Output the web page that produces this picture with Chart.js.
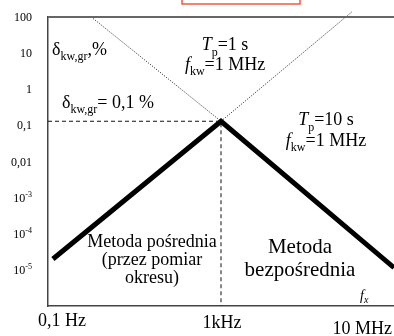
<!DOCTYPE html>
<html><head><meta charset="utf-8">
<script src="https://cdn.jsdelivr.net/npm/chart.js@4"></script>
<style>html,body{margin:0;padding:0;background:#fff;overflow:hidden}#wrap{width:394px;height:336px;position:relative}</style>
</head><body><div id="wrap"><canvas id="c" width="394" height="336"></canvas></div>
<script>
// ---- data (frequency in Hz, error in %) ----
const thickFreq = [0.13, 1000, 1e7];
const thickErr = [2.0e-5, 0.13, 1.15e-5];
const tp1Freq = [1, 1000];
const tp1Err = [100, 0.13];
const fkwFreq = [1000, 1.05e6];
const fkwErr = [0.13, 137];
const limitFreq = [0.1, 1000, 1000];
const limitErr = [0.13, 0.13, 1e-6];
const yTickValues = [100, 10, 1, 0.1, 0.01, 1e-3, 1e-4, 1e-5];
const yTickBase = ['100', '10', '1', '0,1', '0,01', '10', '10', '10'];
const yTickExp = ['', '', '', '', '', '-3', '-4', '-5'];
const xTickValues = [0.1, 1000, 1e7];
const xTickLabels = ['0,1 Hz', '1kHz', '10 MHz'];

const pts = (xs, ys) => xs.map((v, i) => ({x: v, y: ys[i]}));
const SERIF = '"Liberation Serif", "Times New Roman", serif';

// annotations anchored in data coordinates
const notes = [
  {x: 0.124, y: 8.9, align: 'left', lines: [[['δ',18,0,0],['kw,gr',12,5,0],[',%',18,0,0]]]},
  {x: 0.21, y: 0.30, align: 'left', lines: [[['δ',18,0,0],['kw,gr',12,5,0],['= 0,1 %',18,0,0]]]},
  {x: 1240, y: 12.2, align: 'center', lh: 20, lines: [
    [['T',18,0,1],['p',12,6,0],['=1 s',18,0,0]],
    [['f',18,0,1],['kw',12,5,0],['=1 MHz',18,0,0]]]},
  {x: 2.68e5, y: 0.102, align: 'center', lh: 21, lines: [
    [['T',18,0,1],['p',12,6,0],['=10 s',18,0,0]],
    [['f',18,0,1],['kw',12,5,0],['=1 MHz',18,0,0]]]},
  {x: 25.4, y: 4.3e-5, align: 'center', lh: 18, lines: [
    [['Metoda pośrednia',18,0,0]], [['(przez pomiar',18,0,0]], [['okresu)',18,0,0]]]},
  {x: 6.7e4, y: 2.9e-5, align: 'center', lh: 23, lines: [
    [['Metoda',21,0,0]], [['bezpośrednia',21,0,0]]]},
  {x: 1.64e6, y: 1.47e-6, align: 'left', lines: [[['f',14,0,1],['x',10,3,1]]]}
];

function drawRich(ctx, segs, x, y, align) {
  let w = 0;
  const ws = segs.map(s => { ctx.font = (s[3] ? 'italic ' : '') + s[1] + 'px ' + SERIF; const m = ctx.measureText(s[0]).width; w += m; return m; });
  let cx = align === 'center' ? x - w / 2 : align === 'right' ? x - w : x;
  segs.forEach((s, i) => {
    ctx.font = (s[3] ? 'italic ' : '') + s[1] + 'px ' + SERIF;
    ctx.fillText(s[0], cx, y + s[2]);
    cx += ws[i];
  });
}

const decor = {
  id: 'decor',
  afterDraw(chart) {
    const {ctx, chartArea: a, scales: {x, y}} = chart;
    ctx.save();
    // top frame line
    ctx.strokeStyle = '#666'; ctx.lineWidth = 2;
    ctx.beginPath(); ctx.moveTo(a.left, a.top); ctx.lineTo(chart.width, a.top); ctx.stroke();
    // cut-off red box at top
    ctx.strokeStyle = 'rgb(240,90,60)'; ctx.lineWidth = 1.5;
    ctx.strokeRect(182, -10, 118, 14);
    ctx.fillStyle = '#000'; ctx.textBaseline = 'alphabetic';
    // y tick labels
    yTickValues.forEach((v, i) => {
      const py = y.getPixelForValue(v) + 4;
      const segs = [[yTickBase[i], 12, 0, 0]];
      if (yTickExp[i]) segs.push([yTickExp[i], 8, -5, 0]);
      drawRich(ctx, segs, a.left - 16, py, 'right');
    });
    // x tick labels
    xTickLabels.forEach((t, i) => {
      const px = x.getPixelForValue(xTickValues[i]);
      const last = i === xTickLabels.length - 1;
      const align = i === 0 ? 'left' : last ? 'right' : 'center';
      const dx = i === 0 ? -10 : last ? -2 : 1;
      const dy = last ? 28 : i === 0 ? 20 : 22;
      drawRich(ctx, [[t, 18, 0, 0]], px + dx, a.bottom + dy, align);
    });
    // annotations
    notes.forEach(n => {
      const px = x.getPixelForValue(n.x), py = y.getPixelForValue(n.y);
      n.lines.forEach((l, j) => drawRich(ctx, l, px, py + j * (n.lh || 0), n.align));
    });
    ctx.restore();
  }
};

new Chart(document.getElementById('c'), {
  type: 'line',
  data: {
    datasets: [
      {data: pts(limitFreq, limitErr), borderColor: '#111', borderWidth: 1, borderDash: [4, 3], pointRadius: 0, fill: false},
      {data: pts(tp1Freq, tp1Err), borderColor: '#111', borderWidth: 1, borderDash: [1, 1.6], pointRadius: 0, fill: false, clip: false},
      {data: pts(fkwFreq, fkwErr), borderColor: '#111', borderWidth: 1, borderDash: [1, 1.6], pointRadius: 0, fill: false, clip: false},
      {data: pts(thickFreq, thickErr), borderColor: '#000', borderWidth: 5, pointRadius: 0, fill: false, borderJoinStyle: 'miter', borderCapStyle: 'butt'}
    ]
  },
  options: {
    responsive: false, animation: false, parsing: true,
    layout: {padding: {left: 48, top: 17, right: 0, bottom: 30}},
    plugins: {legend: {display: false}, tooltip: {enabled: false}},
    scales: {
      x: {type: 'logarithmic', min: 0.1, max: 1e7, ticks: {display: false}, grid: {display: false, drawTicks: false}, border: {display: true, color: '#444', width: 1.5}},
      y: {type: 'logarithmic', min: 1e-6, max: 100, ticks: {display: false}, grid: {display: false, drawTicks: false}, border: {display: true, color: '#444', width: 1.5}}
    }
  },
  plugins: [decor]
});
</script></body></html>
